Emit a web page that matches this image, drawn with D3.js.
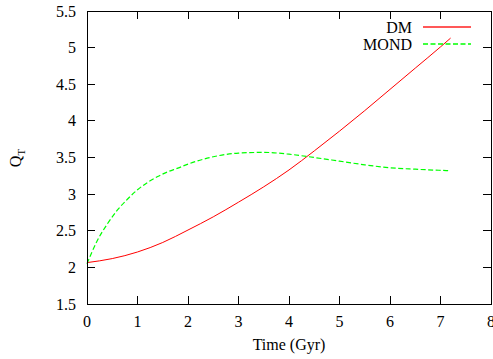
<!DOCTYPE html>
<html><head><meta charset="utf-8">
<script src="https://cdn.jsdelivr.net/npm/d3@7"></script>
<style>html,body{margin:0;padding:0;background:#fff;overflow:hidden}svg{display:block}text{font-family:"Liberation Serif","DejaVu Serif",serif;}</style>
</head><body>
<svg id="c" width="493" height="359"></svg>
<script>
const xTicks = [0,1,2,3,4,5,6,7,8];
const yTicks = [1.5,2,2.5,3,3.5,4,4.5,5,5.5];
const dmTime   = [0,0.5,1,1.5,2,2.5,3,3.5,4,4.5,5,5.5,6,6.5,7,7.2];
const dmQ      = [2.065,2.12,2.21,2.34,2.51,2.69,2.89,3.10,3.33,3.59,3.86,4.14,4.43,4.72,5.01,5.13];
const mondTime = [0,0.2,0.4,0.6,0.8,1,1.2,1.4,1.6,1.8,2,2.5,3,3.5,4,4.5,5,5.5,6,6.5,7,7.2];
const mondQ    = [2.05,2.36,2.59,2.78,2.93,3.06,3.16,3.24,3.305,3.355,3.41,3.51,3.56,3.57,3.545,3.50,3.45,3.40,3.36,3.34,3.325,3.32];
const seriesNames = ["DM","MOND"];

const svg = d3.select("#c");
const L=87, R=491, T=11, B=304;
const x = d3.scaleLinear().domain([0,8]).range([L,R]);
const y = d3.scaleLinear().domain([1.5,5.5]).range([B,T]);
const tl = 8;

const g = svg.append("g");
g.selectAll("path.xt").data(xTicks).join("path").attr("class","xt")
  .attr("d", d=>`M${x(d)},${B}v${-tl}M${x(d)},${T}v${tl}`).style("stroke","#000").style("stroke-width",1).attr("shape-rendering","crispEdges");
g.selectAll("path.yt").data(yTicks).join("path").attr("class","yt")
  .attr("d", d=>`M${L},${y(d)}h${tl}M${R},${y(d)}h${-tl}`).style("stroke","#000").style("stroke-width",1).attr("shape-rendering","crispEdges");
g.selectAll("text.xl").data(xTicks).join("text").attr("class","xl")
  .attr("x", d=>x(d)).attr("y", 327).attr("text-anchor","middle").attr("font-size",16).text(d=>d);
g.selectAll("text.yl").data(yTicks).join("text").attr("class","yl")
  .attr("x", 76).attr("y", d=>y(d)+5.5).attr("text-anchor","end").attr("font-size",16).text(d=>d);

const line = d3.line().x(d=>x(d[0])).y(d=>y(d[1])).curve(d3.curveMonotoneX);
const dm = dmTime.map((t,i)=>[t,dmQ[i]]);
const mond = mondTime.map((t,i)=>[t,mondQ[i]]);
g.append("path").attr("d", line(dm)).style("fill","none").style("stroke","#ff0000").style("stroke-width",1);
g.append("path").attr("d", line(mond)).style("fill","none").style("stroke","#00ff00").style("stroke-width",1.2).style("stroke-dasharray","5,2.5");

g.append("rect").attr("x",L).attr("y",T).attr("width",R-L).attr("height",B-T)
  .style("fill","none").style("stroke","#000").style("stroke-width",1).attr("shape-rendering","crispEdges");

const leg = [{n:seriesNames[0],c:"#ff2020",dash:"none",yy:27},{n:seriesNames[1],c:"#00ff00",dash:"5,2.5",yy:44}];
leg.forEach(l=>{
  g.append("text").attr("x",412).attr("y",l.yy+6).attr("text-anchor","end").attr("font-size",16).text(l.n);
  g.append("path").attr("d",`M423,${l.yy}H471`)
   .style("fill","none").style("stroke",l.c).style("stroke-width",1.3).style("stroke-dasharray",l.dash);
});

g.append("text").attr("x",289).attr("y",350).attr("text-anchor","middle").attr("font-size",16).text("Time (Gyr)");
const yt = g.append("text").attr("transform","translate(21,158) rotate(-90)").attr("text-anchor","middle").attr("font-size",16);
yt.append("tspan").text("Q");
yt.append("tspan").attr("font-size",11).attr("dy",4).text("T");
</script>
</body></html>
